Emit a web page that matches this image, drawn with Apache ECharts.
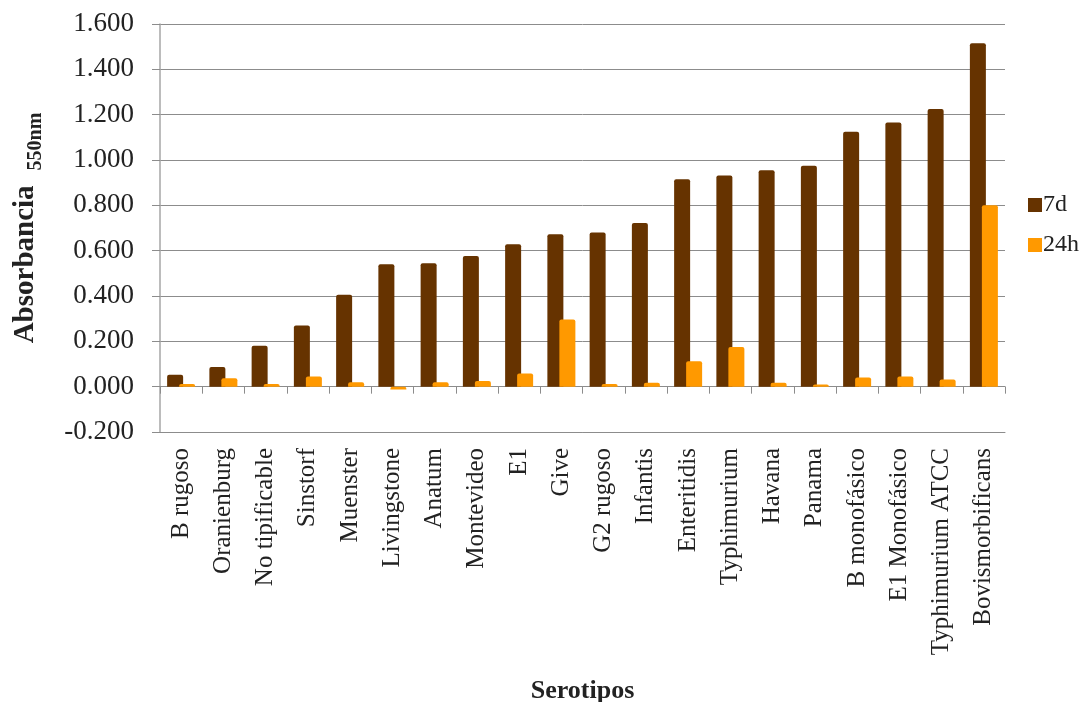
<!DOCTYPE html>
<html>
<head>
<meta charset="utf-8">
<script src="https://cdn.jsdelivr.net/npm/echarts@6/dist/echarts.min.js"></script>
<style>
  html, body { margin: 0; padding: 0; background: #ffffff; }
  #chart { width: 1092px; height: 702px; }
</style>
</head>
<body>
<div id="chart"></div>
<script>
// Serotypes, ordered by 7-day absorbance
const serotipos = [
  'B rugoso', 'Oranienburg', 'No tipificable', 'Sinstorf', 'Muenster',
  'Livingstone', 'Anatum', 'Montevideo', 'E1', 'Give', 'G2 rugoso',
  'Infantis', 'Enteritidis', 'Typhimurium', 'Havana', 'Panama',
  'B monofásico', 'E1 Monofásico', 'Typhimurium ATCC', 'Bovismorbificans'
];

// Absorbance at 550 nm after 7 days
const abs7d = [
  0.053, 0.087, 0.180, 0.270, 0.405, 0.540, 0.544, 0.577, 0.628, 0.672,
  0.680, 0.722, 0.915, 0.932, 0.955, 0.975, 1.125, 1.165, 1.225, 1.515
];

// Absorbance at 550 nm after 24 hours
const abs24h = [
  0.012, 0.037, 0.012, 0.045, 0.020, -0.012, 0.020, 0.025, 0.058, 0.296,
  0.012, 0.017, 0.112, 0.175, 0.017, 0.010, 0.040, 0.045, 0.032, 0.800
];

// Value axis ticks
const yMin = -0.2, yMax = 1.6, yStep = 0.2;

const serif = '"Liberation Serif", "DejaVu Serif", serif';
const gridColor = '#8c8c8c';
const axisColor = '#a6a6a6';

const chart = echarts.init(document.getElementById('chart'));
chart.setOption({
  backgroundColor: '#ffffff',
  animation: false,
  textStyle: { fontFamily: serif, color: '#222' },
  grid: { left: 160, right: 87, top: 24, bottom: 270, containLabel: false, outerBoundsMode: 'none' },
  legend: {
    orient: 'vertical',
    left: 1023,
    top: 188,
    itemWidth: 14,
    itemHeight: 14,
    itemGap: 16,
    icon: 'rect',
    textStyle: { fontFamily: serif, fontSize: 24, color: '#222', padding: [0, 0, 0, -4] },
    data: ['7d', '24h']
  },
  xAxis: [
    {
      type: 'category',
      data: serotipos,
      position: 'bottom',
      axisLine: { onZero: false, lineStyle: { color: gridColor, width: 1 } },
      axisTick: { show: false },
      axisLabel: {
        rotate: 90,
        interval: 0,
        margin: 16,
        fontFamily: serif,
        fontSize: 25,
        color: '#222'
      },
      name: 'Serotipos',
      nameLocation: 'middle',
      nameGap: 246,
      nameTextStyle: { fontFamily: serif, fontSize: 26, fontWeight: 'bold', color: '#222' }
    },
    {
      // Category axis drawn across the zero line, with ticks at category edges
      type: 'category',
      data: serotipos,
      position: 'bottom',
      axisLine: { onZero: true, onZeroAxisIndex: 0, lineStyle: { color: gridColor, width: 1 } },
      axisTick: { show: true, interval: 0, length: 7, lineStyle: { color: gridColor } },
      axisLabel: { show: false, interval: 0 }
    }
  ],
  yAxis: {
    type: 'value',
    min: yMin,
    max: yMax,
    interval: yStep,
    axisLine: { show: true, lineStyle: { color: axisColor, width: 1.5 } },
    axisTick: { show: true, length: 8, lineStyle: { color: gridColor } },
    splitLine: { show: true, lineStyle: { color: gridColor, width: 1 } },
    axisLabel: {
      margin: 26,
      fontFamily: serif,
      fontSize: 27,
      color: '#222',
      formatter: v => v.toFixed(3)
    },
    name: '{main|Absorbancia}     {sub|550nm}',
    nameLocation: 'middle',
    nameGap: 120,
    nameRotate: 90,
    nameTextStyle: {
      rich: {
        main: { fontFamily: serif, fontSize: 29, fontWeight: 'bold', color: '#222', verticalAlign: 'bottom' },
        sub: { fontFamily: serif, fontSize: 20, fontWeight: 'bold', color: '#222', verticalAlign: 'bottom', padding: [0, 0, -6, 0] }
      }
    }
  },
  series: [
    {
      name: '7d',
      type: 'bar',
      xAxisIndex: 0,
      data: abs7d,
      barWidth: 16,
      barGap: '-25%',
      itemStyle: { color: '#663300', borderRadius: [2, 2, 0, 0] }
    },
    {
      name: '24h',
      type: 'bar',
      xAxisIndex: 0,
      data: abs24h,
      barWidth: 16,
      barGap: '-25%',
      itemStyle: { color: '#ff9900', borderRadius: [2, 2, 0, 0] }
    }
  ]
});
</script>
</body>
</html>
